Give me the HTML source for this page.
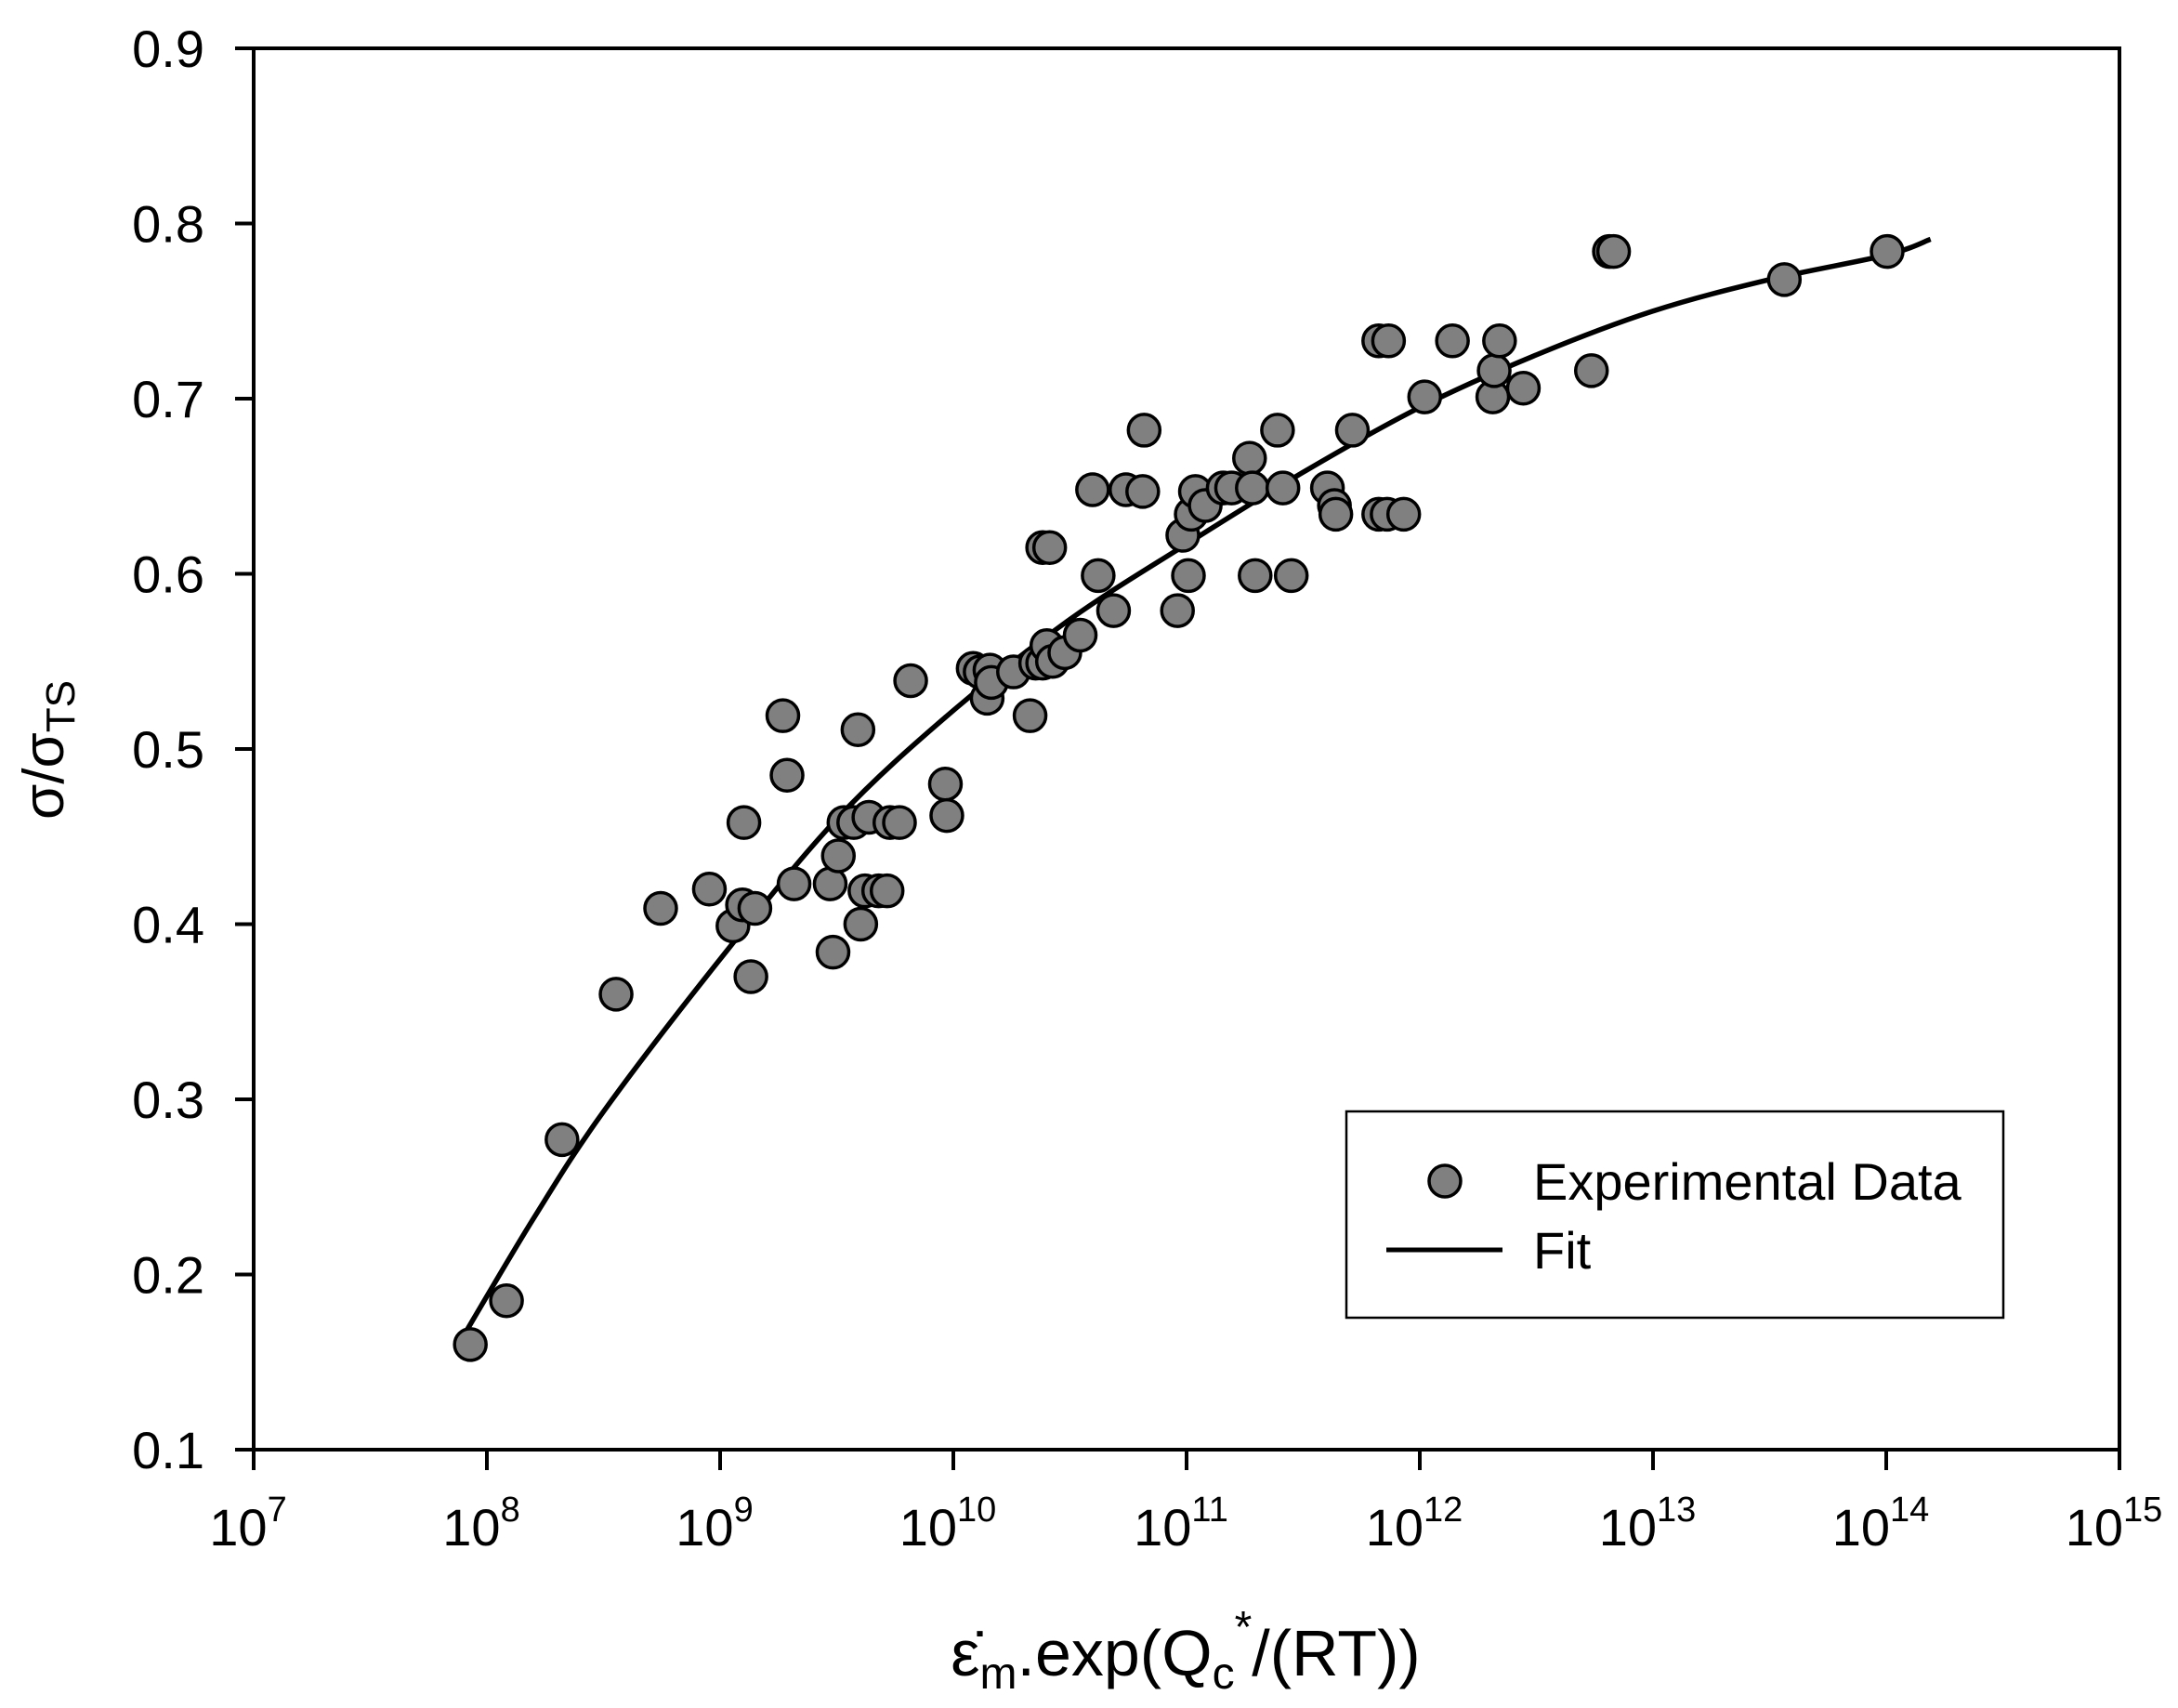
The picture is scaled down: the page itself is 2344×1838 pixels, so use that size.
<!DOCTYPE html>
<html><head><meta charset="utf-8"><style>
html,body{margin:0;padding:0;background:#fff;}
svg{display:block;font-family:"Liberation Sans",Arial,sans-serif;}
</style></head><body>
<svg id="chart" width="2344" height="1838" viewBox="0 0 2344 1838" xmlns="http://www.w3.org/2000/svg">
<rect x="0" y="0" width="2344" height="1838" fill="#fff"/>
<g id="grid"></g>
<g id="fit"></g>
<g id="pts"></g>
<g id="axes"></g>
<text x="1276" y="1803" font-size="70" text-anchor="middle">ε̇<tspan font-size="48" dy="14">m</tspan><tspan dy="-14">.exp(Q</tspan><tspan font-size="48" dy="14">c</tspan><tspan font-size="48" dy="-50">*</tspan><tspan dy="36">/(RT))</tspan></text>
<text transform="translate(68,807) rotate(-90)" font-size="62" text-anchor="middle">σ/σ<tspan font-size="44" dy="12">TS</tspan></text>
<g>
<rect x="1449" y="1196" width="707" height="222" fill="#fff" stroke="#000" stroke-width="2.5"/>
<circle cx="1555" cy="1271" r="17" fill="#808080" stroke="#000" stroke-width="3.5"/>
<text x="1650" y="1291" font-size="56">Experimental Data</text>
<line x1="1492" y1="1345" x2="1617" y2="1345" stroke="#000" stroke-width="5"/>
<text x="1650" y="1365" font-size="56">Fit</text>
</g>
</svg>
<script>
const yTicks=[0.1,0.2,0.3,0.4,0.5,0.6,0.7,0.8,0.9];
const yTickLabels=["0.1","0.2","0.3","0.4","0.5","0.6","0.7","0.8","0.9"];
const xTickExps=[7,8,9,10,11,12,13,14,15];
const dataLogX=[7.929,8.084,8.322,8.554,8.745,8.954,9.055,9.096,9.102,9.132,9.149,9.269,9.287,9.317,9.472,9.484,9.507,9.531,9.573,9.591,9.603,9.621,9.638,9.680,9.716,9.728,9.769,9.817,9.966,9.972,10.085,10.115,10.145,10.157,10.163,10.258,10.329,10.353,10.383,10.401,10.425,10.383,10.413,10.478,10.544,10.597,10.621,10.687,10.740,10.812,10.818,10.961,10.984,11.008,11.020,11.038,11.080,11.157,11.193,11.270,11.282,11.294,11.390,11.413,11.449,11.604,11.634,11.640,11.711,11.824,11.860,11.824,11.866,11.931,12.021,12.140,12.313,12.319,12.342,12.444,12.736,12.813,12.831,13.563,14.004];
const dataY=[0.160,0.185,0.277,0.360,0.409,0.420,0.399,0.411,0.458,0.370,0.409,0.519,0.485,0.423,0.423,0.384,0.439,0.458,0.458,0.511,0.400,0.419,0.461,0.419,0.419,0.458,0.458,0.539,0.480,0.462,0.546,0.544,0.529,0.545,0.538,0.544,0.519,0.549,0.549,0.559,0.550,0.615,0.615,0.555,0.565,0.648,0.599,0.579,0.648,0.647,0.682,0.579,0.622,0.599,0.634,0.647,0.639,0.649,0.649,0.666,0.649,0.599,0.682,0.649,0.599,0.649,0.639,0.634,0.682,0.634,0.634,0.733,0.733,0.634,0.701,0.733,0.701,0.716,0.733,0.706,0.716,0.784,0.784,0.768,0.784];
const fitLogX=[7.9,8.2,8.5,9,9.5,10,10.5,11,11.5,12,12.5,13,13.5,14,14.19];
const fitY=[0.165,0.232,0.293,0.38,0.46,0.522,0.574,0.617,0.658,0.695,0.725,0.75,0.768,0.782,0.791];

const L=273,R=2281,T=52,B=1560;
const xs=lx=>L+(lx-7)/8*(R-L);
const ys=v=>B-(v-0.1)/0.8*(B-T);
const NS="http://www.w3.org/2000/svg";
function mk(tag,parent,attrs){const e=document.createElementNS(NS,tag);for(const k in attrs)e.setAttribute(k,attrs[k]);parent.appendChild(e);return e;}

const axes=document.getElementById('axes');
const frame=mk('rect',axes,{x:L,y:T,width:R-L,height:B-T,fill:'none',stroke:'#000','stroke-width':4});


yTicks.forEach((v,i)=>{
  const t=mk('line',axes,{x1:L-20,x2:L,y1:ys(v),y2:ys(v),stroke:'#000','stroke-width':4});
  
  
  const tx=mk('text',axes,{x:220,y:ys(v)+20,'font-size':56,'text-anchor':'end'});
  tx.textContent=yTickLabels[i];
  
  
});
xTickExps.forEach(e=>{
  const x=xs(e);
  const t=mk('line',axes,{x1:x,x2:x,y1:B,y2:B+22,stroke:'#000','stroke-width':4});
  
  
  const tx=mk('text',axes,{x:x-6,y:1663,'font-size':56,'text-anchor':'middle'});
  
  
  tx.appendChild(document.createTextNode('10'));
  const sp=mk('tspan',tx,{'font-size':38,dy:-26});
  sp.textContent=String(e);
});

const fp=fitLogX.map((lx,i)=>[xs(lx),ys(fitY[i])]);
let d='M'+fp[0][0]+','+fp[0][1];
for(let i=0;i<fp.length-1;i++){
  const p0=fp[Math.max(i-1,0)],p1=fp[i],p2=fp[i+1],p3=fp[Math.min(i+2,fp.length-1)];
  const c1=[p1[0]+(p2[0]-p0[0])/6,p1[1]+(p2[1]-p0[1])/6];
  const c2=[p2[0]-(p3[0]-p1[0])/6,p2[1]-(p3[1]-p1[1])/6];
  d+=' C'+c1+' '+c2+' '+p2;
}
const fitPath=mk('path',document.getElementById('fit'),{d:d,fill:'none',stroke:'#000','stroke-width':5.5});



const pts=document.getElementById('pts');
dataLogX.forEach((lx,i)=>{
  const c=mk('circle',pts,{cx:xs(lx),cy:ys(dataY[i]),r:17,fill:'#808080',stroke:'#000','stroke-width':3.5});
  
  
});
</script>
</body></html>
